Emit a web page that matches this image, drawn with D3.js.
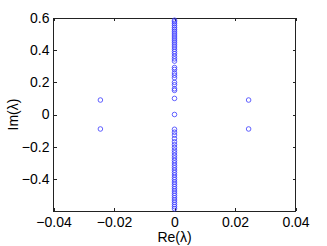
<!DOCTYPE html>
<html>
<head>
<meta charset="utf-8">
<script src="https://cdn.jsdelivr.net/npm/d3@7"></script>
<style>
  body { margin: 0; background: #fff; }
  text { font-family: "Liberation Sans", Arial, sans-serif; }
</style>
</head>
<body>
<div id="chart"></div>
<script>
var svgWidth = 327;
var svgHeight = 246;

var margin = { top: 18, right: 31.5, bottom: 35, left: 53.5 };
var width = svgWidth - margin.left - margin.right;
var height = svgHeight - margin.top - margin.bottom;

// eigenvalues
var axisRe = 0;
var imUpper = [0.586, 0.576, 0.565, 0.553, 0.541, 0.530, 0.518, 0.506, 0.494, 0.482,
  0.470, 0.458, 0.446, 0.433, 0.420, 0.406, 0.392, 0.378, 0.362, 0.346, 0.332,
  0.292, 0.280, 0.258, 0.244, 0.228, 0.200, 0.185, 0.160, 0.150, 0.100, 0.0];
var imLower = [-0.092, -0.110, -0.128, -0.150, -0.170, -0.188, -0.205, -0.222, -0.238,
  -0.254, -0.270, -0.286, -0.301, -0.316, -0.331, -0.346, -0.361, -0.376, -0.391,
  -0.405, -0.420, -0.434, -0.448, -0.462, -0.476, -0.490, -0.504, -0.518, -0.532,
  -0.546, -0.560, -0.573, -0.586];
var outRe = [-0.0245, -0.0245, 0.0245, 0.0245];
var outIm = [0.09, -0.09, 0.09, -0.09];

var xTicks = [-0.04, -0.02, 0, 0.02, 0.04];
var yTicks = [-0.4, -0.2, 0, 0.2, 0.4, 0.6];
var yTickMarks = [-0.6, -0.4, -0.2, 0, 0.2, 0.4, 0.6];

var points = imUpper.concat(imLower).map(function(v) { return { re: axisRe, im: v }; })
  .concat(outRe.map(function(r, i) { return { re: r, im: outIm[i] }; }));

var svg = d3.select("#chart")
  .append("svg")
  .attr("width", svgWidth)
  .attr("height", svgHeight);

var chartGroup = svg.append("g")
  .attr("transform", `translate(${margin.left}, ${margin.top})`);

var xScale = d3.scaleLinear().domain([-0.04, 0.04]).range([0, width]);
var yScale = d3.scaleLinear().domain([-0.6, 0.6]).range([height, 0]);

var fmt = function(d) { return d === 0 ? "0" : d3.format(".2~f")(d).replace("-", "\u2212"); };
var fmtY = function(d) { return d === 0 ? "0" : d3.format(".1f")(d).replace("-", "\u2212"); };

function styleAxis(g) {
  g.select(".domain").remove();
  g.selectAll(".tick line").attr("stroke", "#222").attr("shape-rendering", "crispEdges");
  g.selectAll("text").style("font-size", "14px").attr("fill", "#000");
}

// bottom axis, ticks inward
chartGroup.append("g")
  .attr("transform", `translate(0, ${height})`)
  .call(d3.axisBottom(xScale).tickValues(xTicks).tickSize(-3).tickPadding(6).tickFormat(fmt))
  .call(styleAxis);

// top axis, marks only
chartGroup.append("g")
  .call(d3.axisTop(xScale).tickValues(xTicks).tickSize(-3).tickFormat(""))
  .call(styleAxis);

// left axis
chartGroup.append("g")
  .call(d3.axisLeft(yScale).tickValues(yTickMarks).tickSize(-3).tickPadding(4)
    .tickFormat(function(d) { return yTicks.indexOf(d) >= 0 ? fmtY(d) : ""; }))
  .call(styleAxis);

// right axis, marks only
chartGroup.append("g")
  .attr("transform", `translate(${width}, 0)`)
  .call(d3.axisRight(yScale).tickValues(yTickMarks).tickSize(-3).tickFormat(""))
  .call(styleAxis);

// box
chartGroup.append("rect")
  .attr("width", width)
  .attr("height", height)
  .attr("fill", "none")
  .attr("stroke", "#222")
  .attr("stroke-width", 1)
  .attr("shape-rendering", "crispEdges");

// markers
chartGroup.selectAll("circle")
  .data(points)
  .enter()
  .append("circle")
  .attr("cx", d => xScale(d.re))
  .attr("cy", d => yScale(d.im))
  .attr("r", 2.3)
  .attr("fill", "none")
  .attr("stroke", "#3b3bff")
  .attr("stroke-width", 0.8);

// axis labels
svg.append("text")
  .attr("x", margin.left + xScale(0))
  .attr("y", 241.5)
  .attr("text-anchor", "middle")
  .style("font-size", "14px")
  .text("Re(\u03bb)");

svg.append("text")
  .attr("transform", `translate(18, ${margin.top + yScale(0)}) rotate(-90)`)
  .attr("text-anchor", "middle")
  .style("font-size", "14px")
  .text("Im(\u03bb)");
</script>
</body>
</html>
